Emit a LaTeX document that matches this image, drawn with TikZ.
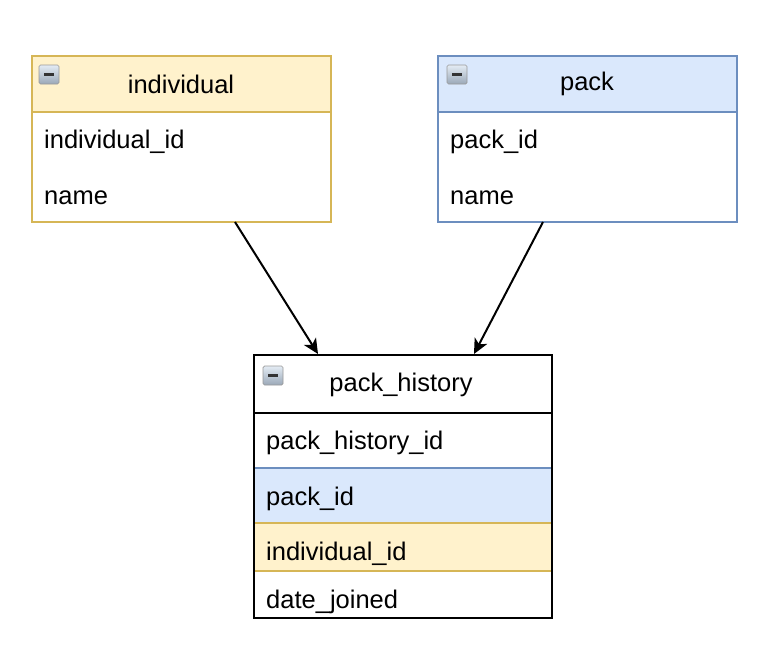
\documentclass[tikz,border=0pt]{standalone}
\usepackage{fontspec}
\setmainfont{Liberation Sans}
\usetikzlibrary{arrows.meta}
\definecolor{yfill}{HTML}{FFF2CC}
\definecolor{ydraw}{HTML}{D6B656}
\definecolor{bfill}{HTML}{DAE8FC}
\definecolor{bdraw}{HTML}{6C8EBF}
\definecolor{icontop}{HTML}{E4ECF4}
\definecolor{iconbot}{HTML}{9AA8B8}
\begin{document}
\begin{tikzpicture}[x=1pt,y=-1pt,
  tbl/.style={line width=1.8pt},
  lbl/.style={font=\fontsize{25.5}{30}\selectfont, inner sep=0pt},
  fld/.style={lbl, anchor=west},
  conn/.style={line width=2pt, -{Stealth[length=15pt,width=14pt,inset=4pt]}}]
\useasboundingbox (0,0) rectangle (780,672);
\fill[white] (0,0) rectangle (780,672);
% icon macro
\newcommand{\mkicon}[2]{%
  \shade[top color=icontop,bottom color=iconbot,draw=gray!80,line width=0.7pt,rounded corners=1.5pt] (#1,#2) rectangle ++(20,19);
  \fill[black!80] (#1+5,#2+8.3) rectangle ++(10,2.6);}
% individual
\filldraw[tbl,fill=yfill,draw=ydraw] (32,56) rectangle (331,222);
\fill[white] (32.9,112.9) rectangle (330.1,221.1);
\draw[tbl,ydraw] (32,112) -- (331,112);
\mkicon{39}{65}
\node[lbl] (indh) at (181,84) {individual};
\node[fld] (indid) at (44,142) {individual\_id};
\node[fld] (indname) at (44,198) {name};
\coordinate (indb) at (235,222);
% pack
\filldraw[tbl,fill=bfill,draw=bdraw] (438,56) rectangle (737,222);
\fill[white] (438.9,112.9) rectangle (736.1,221.1);
\draw[tbl,bdraw] (438,112) -- (737,112);
\mkicon{447}{65}
\node[lbl] (packh) at (587,84) {pack};
\node[fld] (packid) at (450,142) {pack\_id};
\node[fld] (packname) at (450,198) {name};
\coordinate (packb) at (543,222);
% pack_history
\fill[white] (254,355) rectangle (552,618);
\filldraw[tbl,fill=bfill,draw=bdraw] (254,468) rectangle (552,523);
\filldraw[tbl,fill=yfill,draw=ydraw] (254,523) rectangle (552,571);
\draw[tbl,black] (254,355) rectangle (552,618);
\draw[tbl,black] (254,413) -- (552,413);
\mkicon{263}{366}
\node[lbl] (phh) at (401,385) {pack\_history};
\node[fld] (phid) at (266,443) {pack\_history\_id};
\node[fld] (phpack) at (266,499) {pack\_id};
\node[fld] (phind) at (266,554) {individual\_id};
\node[fld] (phdate) at (266,602) {date\_joined};
\coordinate (pht1) at (318,354);
\coordinate (pht2) at (474,354);
% connectors
\draw[conn] (indb) -- (pht1);
\draw[conn] (packb) -- (pht2);
\end{tikzpicture}
\end{document}
